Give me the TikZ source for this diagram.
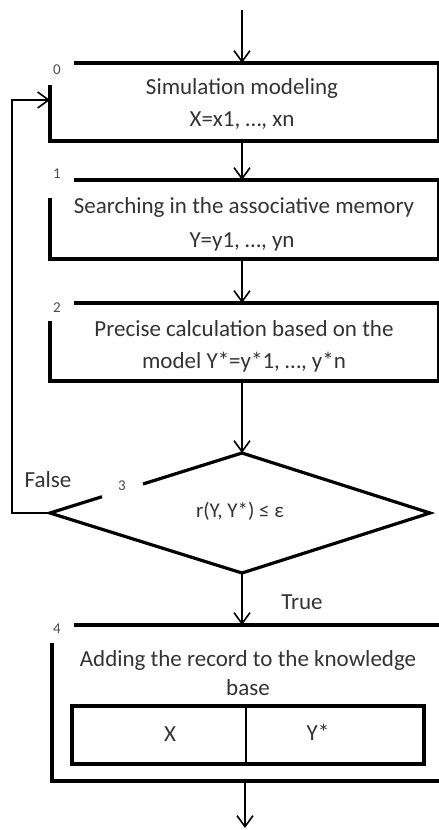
\documentclass[tikz,border=0pt]{standalone}
\usepackage{fontspec}
\setmainfont{Carlito}
\usetikzlibrary{arrows.meta}
\begin{document}
\begin{tikzpicture}[x=1pt,y=-1pt,
  txt/.style={inner sep=0pt,font=\fontsize{23}{26}\selectfont,text=black!80},
  num/.style={inner sep=0pt,font=\fontsize{15}{17}\selectfont,text=black!70},
  thickline/.style={line width=3.2pt,line cap=rect},
  thinline/.style={line width=1.6pt},
  flow/.style={line width=1.6pt,-{Straight Barb[length=11pt,width=16pt,line width=1.6pt]}}]
\useasboundingbox (0,0) rectangle (439,830);
% coordinates
\coordinate (start) at (242,10);
\coordinate (b0t) at (242,63);
\coordinate (b0b) at (242,141);
\coordinate (b1t) at (242,180);
\coordinate (b1b) at (242,259);
\coordinate (b2t) at (242,303);
\coordinate (b2b) at (242,381);
\coordinate (dt) at (242,453);
\coordinate (dr) at (430,513);
\coordinate (db) at (242,573);
\coordinate (dl) at (50,513);
\coordinate (b4t) at (242,625);
\coordinate (b4b) at (245,781);
\coordinate (end) at (245,828);
\coordinate (loopa) at (12,513);
\coordinate (loopb) at (12,100);
\coordinate (loopc) at (50,100);
% box 0
\draw[thickline] (76,63) -- (438,63);
\draw[thinline] (438,63) -- (438,141);
\draw[thickline] (50,87) -- (50,141) -- (438,141);
\node[txt] (t0a) at (242,88) {Simulation modeling};
\node[txt] (t0b) at (242,121) {X=x1, …, xn};
\node[num] (n0) at (57,70) {0};
% box 1
\draw[thickline] (76,180) -- (438,180);
\draw[thinline] (438,180) -- (438,259);
\draw[thickline] (50,200) -- (50,259) -- (438,259);
\node[txt] (t1a) at (244,207) {Searching in the associative memory};
\node[txt] (t1b) at (242,242) {Y=y1, …, yn};
\node[num] (n1) at (57,174) {1};
% box 2
\draw[thickline] (76,303) -- (438,303);
\draw[thinline] (438,303) -- (438,381);
\draw[thickline] (50,323) -- (50,381) -- (438,381);
\node[txt] (t2a) at (244,329) {Precise calculation based on the};
\node[txt] (t2b) at (244,362) {model Y*=y*1, …, y*n};
\node[num] (n2) at (57,308) {2};
% diamond
\draw[thickline,line cap=butt,line join=miter] (143,484) -- (dt) -- (dr) -- (db) -- (dl) -- (102,496.7);
\node[num] (n3) at (122,486) {3};
\node[txt,font=\fontsize{21}{24}\selectfont] (cond) at (240,511) {r(Y, Y*) ≤ ε};
\node[txt] (false) at (48,480) {False};
\node[txt] (true) at (302,602) {True};
% box 4
\draw[thickline] (76,625) -- (445,625);
\draw[thickline] (52,645) -- (52,781) -- (445,781);
\node[txt] (t4a) at (248,660) {Adding the record to the knowledge};
\node[txt] (t4b) at (248,688) {base};
\node[num] (n4) at (57,629) {4};
\draw[line width=3.2pt] (72,706) rectangle (424,764);
\draw[thinline] (246,706) -- (246,764);
\node[txt] (tx) at (170,734) {X};
\node[txt] (ty) at (318,732) {Y*};
% connectors
\draw[flow] (start) -- (b0t);
\draw[flow] (b0b) -- (b1t);
\draw[flow] (b1b) -- (b2t);
\draw[flow] (b2b) -- (dt);
\draw[flow] (db) -- (b4t);
\draw[flow] (b4b) -- (end);
\draw[flow] (dl) -- (loopa) -- (loopb) -- (loopc);
\end{tikzpicture}
\end{document}
